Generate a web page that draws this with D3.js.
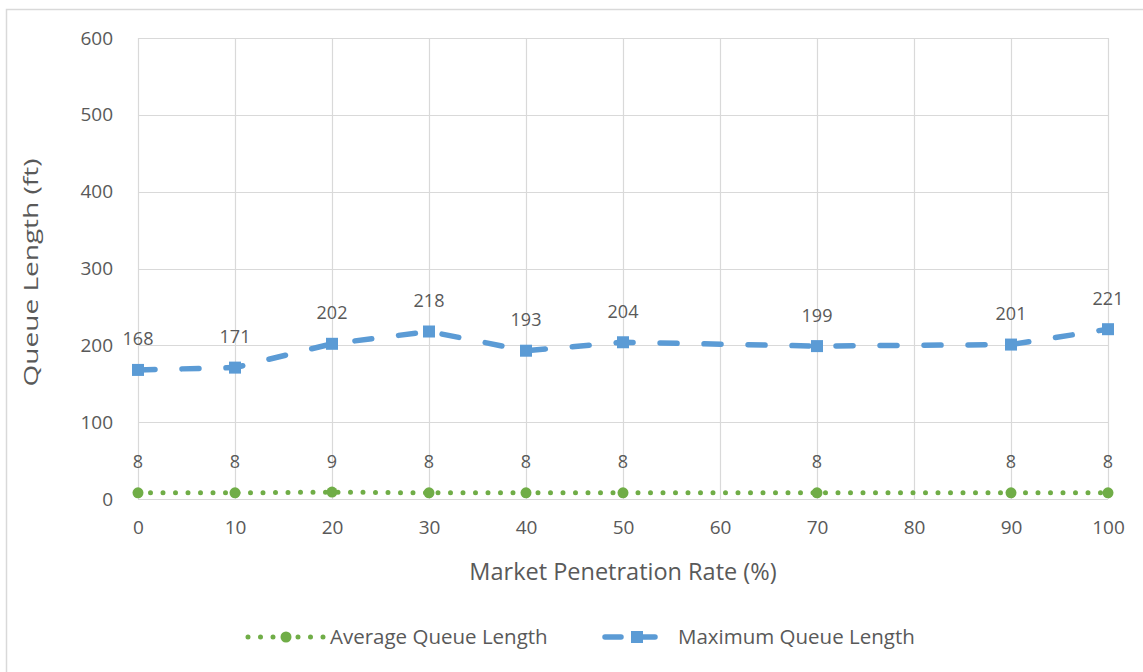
<!DOCTYPE html>
<html>
<head>
<meta charset="utf-8">
<script src="https://cdn.jsdelivr.net/npm/d3@7"></script>
<style>
  html, body { margin: 0; padding: 0; background: #fff; }
  svg { display: block; font-family: "Open Sans", Lato, sans-serif; }
</style>
</head>
<body>
<svg id="chart" width="1143" height="672"></svg>
<script>
// Market penetration rates (%) with recorded results
const penetration = [0, 10, 20, 30, 40, 50, 70, 90, 100];
const avgQueue = [8, 8, 9, 8, 8, 8, 8, 8, 8];
const maxQueue = [168, 171, 202, 218, 193, 204, 199, 201, 221];
const xTicks = [0, 10, 20, 30, 40, 50, 60, 70, 80, 90, 100];
const yTicks = [0, 100, 200, 300, 400, 500, 600];
const seriesNames = ["Average Queue Length", "Maximum Queue Length"];

const svg = d3.select("#chart");
const W = 1143, H = 672;
const plot = { left: 138, right: 1108, top: 38, bottom: 499 };
const textColor = "#595959";
const gridColor = "#d9d9d9";
const green = "#70ad47", blue = "#5b9bd5";
const font = "'Open Sans', Lato, sans-serif";

// outer frame
svg.append("rect")
  .attr("x", 6.5).attr("y", 9.5)
  .attr("width", W + 10).attr("height", H + 10)
  .attr("fill", "#fff").attr("stroke", "#d9d9d9").attr("stroke-width", 1.5);

const x = d3.scaleLinear().domain([0, 100]).range([plot.left, plot.right]);
const y = d3.scaleLinear().domain([0, 600]).range([plot.bottom, plot.top]);

// gridlines
const grid = svg.append("g");
grid.selectAll("line.h").data(yTicks).join("line")
  .attr("x1", plot.left).attr("x2", plot.right)
  .attr("y1", d => Math.round(y(d)) + 0.5).attr("y2", d => Math.round(y(d)) + 0.5)
  .attr("stroke", gridColor).attr("stroke-width", 1.2);
grid.selectAll("line.v").data(xTicks).join("line")
  .attr("y1", plot.top).attr("y2", plot.bottom)
  .attr("x1", d => Math.round(x(d)) + 0.5).attr("x2", d => Math.round(x(d)) + 0.5)
  .attr("stroke", gridColor).attr("stroke-width", 1.2);

// axes (labels only, no tick marks)
const yAxis = svg.append("g")
  .attr("transform", `translate(${plot.left},0)`)
  .call(d3.axisLeft(y).tickValues(yTicks).tickSize(0).tickPadding(25));
yAxis.select(".domain").remove();
yAxis.selectAll("text").attr("fill", textColor).style("font-size", "19px")
  .style("font-family", font);

const xAxis = svg.append("g")
  .attr("transform", `translate(0,${plot.bottom})`)
  .call(d3.axisBottom(x).tickValues(xTicks).tickSize(0).tickPadding(22));
xAxis.select(".domain").remove();
xAxis.selectAll("text").attr("fill", textColor).style("font-size", "19px")
  .style("font-family", font);

// axis titles
svg.append("text")
  .attr("x", (plot.left + plot.right) / 2).attr("y", 580)
  .attr("text-anchor", "middle").attr("fill", textColor)
  .style("font-size", "23.5px").text("Market Penetration Rate (%)");
svg.append("text")
  .attr("transform", `translate(38,${(plot.top + plot.bottom) / 2 + 4}) rotate(-90) scale(1.4,1)`)
  .attr("text-anchor", "middle").attr("fill", textColor)
  .style("font-size", "20px").text("Queue Length (ft)");

const line = d3.line().x(d => x(d[0])).y(d => y(d[1]));
const avgData = penetration.map((p, i) => [p, avgQueue[i]]);
const maxData = penetration.map((p, i) => [p, maxQueue[i]]);

// average series: dotted green line with round markers
svg.append("path").datum(avgData)
  .attr("d", line).attr("fill", "none")
  .attr("stroke", green).attr("stroke-width", 5)
  .attr("stroke-linecap", "round").attr("stroke-dasharray", "0 12.5");
svg.append("g").selectAll("circle").data(avgData).join("circle")
  .attr("cx", d => x(d[0])).attr("cy", d => y(d[1]))
  .attr("r", 5.5).attr("fill", green);

// maximum series: dashed blue line with square markers
svg.append("path").datum(maxData)
  .attr("d", line).attr("fill", "none")
  .attr("stroke", blue).attr("stroke-width", 5.5)
  .attr("stroke-linecap", "round").attr("stroke-dasharray", "17 27");
svg.append("g").selectAll("rect").data(maxData).join("rect")
  .attr("x", d => x(d[0]) - 6).attr("y", d => y(d[1]) - 6)
  .attr("width", 12).attr("height", 12).attr("fill", blue);

// data labels
const labelStyle = sel => sel.attr("text-anchor", "middle").attr("fill", textColor)
  .style("font-size", "18px");
svg.append("g").selectAll("text").data(avgData).join("text")
  .attr("x", d => x(d[0])).attr("y", d => y(d[1]) - 24.5)
  .call(labelStyle).text(d => d[1]);
svg.append("g").selectAll("text").data(maxData).join("text")
  .attr("x", d => x(d[0])).attr("y", d => y(d[1]) - 24.5)
  .call(labelStyle).text(d => d[1]);

// legend
const legendY = 637;
const lg = svg.append("g");
lg.append("line").attr("x1", 248).attr("x2", 324).attr("y1", legendY).attr("y2", legendY)
  .attr("stroke", green).attr("stroke-width", 5)
  .attr("stroke-linecap", "round").attr("stroke-dasharray", "0 12.5");
lg.append("circle").attr("cx", 286).attr("cy", legendY).attr("r", 5.5).attr("fill", green);
lg.append("text").attr("x", 330).attr("y", legendY + 7).attr("fill", textColor)
  .style("font-size", "20.5px").text(seriesNames[0]);

lg.append("line").attr("x1", 605).attr("x2", 669).attr("y1", legendY).attr("y2", legendY)
  .attr("stroke", blue).attr("stroke-width", 5.5)
  .attr("stroke-linecap", "round").attr("stroke-dasharray", "16 18");
lg.append("rect").attr("x", 637 - 6).attr("y", legendY - 6)
  .attr("width", 12).attr("height", 12).attr("fill", blue);
lg.append("text").attr("x", 678).attr("y", legendY + 7).attr("fill", textColor)
  .style("font-size", "20.5px").text(seriesNames[1]);
</script>
</body>
</html>
